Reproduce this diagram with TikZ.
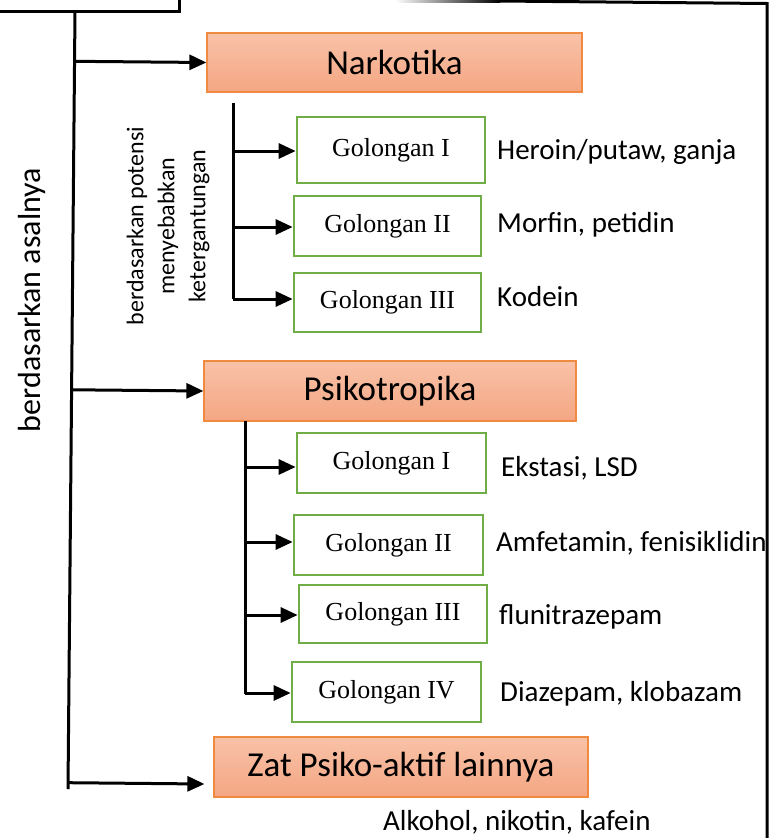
\documentclass[tikz,border=0pt]{standalone}
\usepackage{fontspec}
\setmainfont{Liberation Serif}
\setsansfont{Carlito}
\usepackage{tikz}
\usetikzlibrary{arrows.meta}
\usetikzlibrary{shapes,positioning,calc}

\definecolor{oranyegaris}{HTML}{F08A40}
\definecolor{oranyeatas}{HTML}{F8C2A8}
\definecolor{oranyebawah}{HTML}{F4A683}
\definecolor{hijaugaris}{HTML}{70AD47}

\tikzset{
	kelompok/.style={draw=oranyegaris, line width=1.2pt, rectangle, top color=oranyeatas, bottom color=oranyebawah, inner sep=0pt, minimum height=59pt, font=\sffamily\fontsize{35}{40}\selectfont},
	golongan/.style={draw=hijaugaris, line width=2.7pt, rectangle, fill=white, inner sep=0pt, minimum width=187pt, minimum height=60pt, font=\fontsize{26}{30}\selectfont},
	contoh/.style={anchor=west, inner sep=0pt, font=\sffamily\fontsize{29}{33}\selectfont},
	panah/.style={-{Triangle[length=17pt,width=15pt]}, line width=3pt},
	garis/.style={line width=3pt}
}

\begin{document}
\begin{tikzpicture}[x=1pt, y=-1pt]
		\useasboundingbox (0,0) rectangle (773,838);
		\fill[left color=white, right color=black] (395,-0.5) rectangle (500,2.5);
		\draw[line width=3pt] (499,1) -- (767,3.5) -- (767,838);
		\draw[garis] (0,11) -| (179,0);
		
		\coordinate (atas) at (75,11);
		\coordinate (bawah) at (68,789);
		\draw[garis] (atas) -- (bawah);
		\node[rotate=90, font=\sffamily\fontsize{32}{36}\selectfont] (asal) at (32,300) {berdasarkan asalnya};
		
		\node[kelompok, minimum width=375pt] (narkotika) at (394.5,62.5) {Narkotika};
		\node[kelompok, minimum width=372pt, minimum height=60pt] (psikotropika) at (390,391) {Psikotropika};
		\node[kelompok, minimum width=374pt, minimum height=60pt] (zat) at (401,767) {Zat Psiko-aktif lainnya};
		\node[contoh] (zatcontoh) at (383,822) {Alkohol, nikotin, kafein};
		
		\draw[panah] ($(atas)!(narkotika.west)!(bawah)$) -- (narkotika.west);
		\draw[panah] ($(atas)!(psikotropika.west)!(bawah)$) -- (psikotropika.west);
		\coordinate (zatmasuk) at ($(zat.west)+(-9,17)$);
		\draw[panah] ($(atas)!(zatmasuk)!(bawah)$) -- (zatmasuk);
		
		\node[rotate=90, align=center, font=\sffamily\fontsize{24}{31}\selectfont] (potensi) at (168,226) {berdasarkan potensi\\menyebabkan\\ketergantungan};
		
		\node[golongan, minimum width=188pt, minimum height=66pt] (n1) at (391,150) {Golongan I};
		\node[golongan] (n2) at (387.5,226) {Golongan II};
		\node[golongan, minimum height=59pt] (n3) at (387.5,302.5) {Golongan III};
		\node[contoh] (n1contoh) at (497,152) {Heroin/putaw, ganja};
		\node[contoh] (n2contoh) at (497,225) {Morfin, petidin};
		\node[contoh] (n3contoh) at (497,297) {Kodein};
		
		\coordinate (cabangn) at (233,103);
		\draw[garis] (cabangn) -- (cabangn |- 0,299);
		\draw[panah] (cabangn |- 0,151) -- (n1.west |- 0,151);
		\draw[panah] (cabangn |- 0,227) -- (n2.west |- 0,227);
		\draw[panah] (cabangn |- 0,299) -- (n3.west |- 0,299);
		
		\node[golongan, minimum width=189pt] (p1) at (391.5,463) {Golongan I};
		\node[golongan, minimum width=189pt] (p2) at (388.5,545) {Golongan II};
		\node[golongan, minimum width=188pt, minimum height=58pt] (p3) at (393,614) {Golongan III};
		\node[golongan, minimum width=189pt] (p4) at (386.5,692) {Golongan IV};
		\node[contoh] (p1contoh) at (501,468) {Ekstasi, LSD};
		\node[contoh] (p2contoh) at (496,543) {Amfetamin, fenisiklidin};
		\node[contoh] (p3contoh) at (499,617) {flunitrazepam};
		\node[contoh] (p4contoh) at (500,694) {Diazepam, klobazam};
		
		\coordinate (cabangp) at (245,421);
		\draw[garis] (cabangp) -- (cabangp |- 0,694);
		\draw[panah] (cabangp |- 0,467) -- (p1.west |- 0,467);
		\draw[panah] (cabangp |- 0,542) -- (p2.west |- 0,542);
		\draw[panah] (cabangp |- 0,615) -- (p3.west |- 0,615);
		\draw[panah] (cabangp |- 0,693) -- (p4.west |- 0,693);
\end{tikzpicture}
\end{document}
